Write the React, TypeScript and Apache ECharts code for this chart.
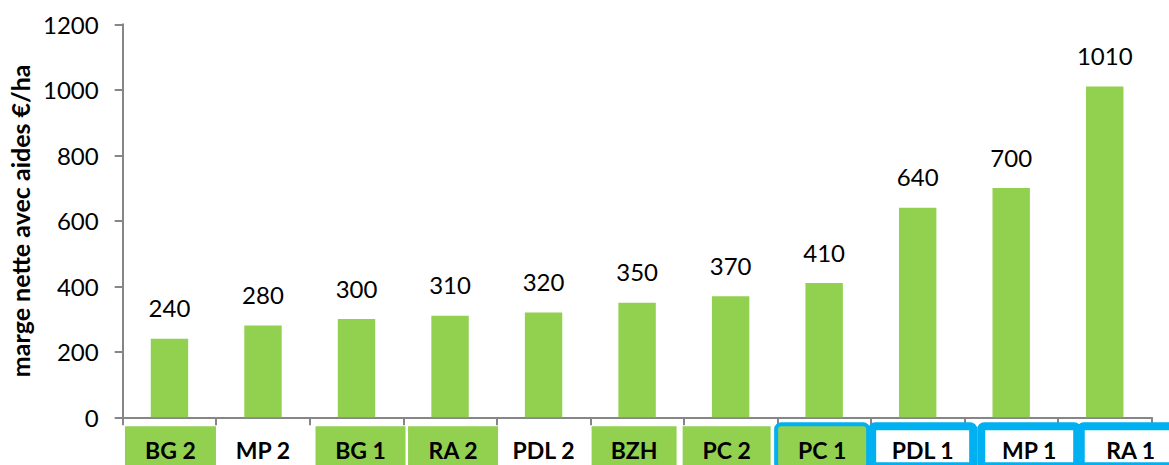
import React, { useEffect, useRef } from "react";
import * as echarts from "echarts";

const categories = ["BG 2", "MP 2", "BG 1", "RA 2", "PDL 2", "BZH", "PC 2", "PC 1", "PDL 1", "MP 1", "RA 1"];
const margeNette = [240, 280, 300, 310, 320, 350, 370, 410, 640, 700, 1010];
const yTicks = { min: 0, max: 1200, interval: 200 };
const yTitle = "marge nette avec aides €/ha";

const GREEN = "#92D050";
const BLUE = "#00B0F0";
const FONT = "Lato";

// label box styling per category (fill, blue frame, box width, horizontal shift)
const labelBoxes: Record<string, { fill?: string; border?: boolean; width: number; shift: number }> = {
  "BG 2": { fill: GREEN, width: 91, shift: 1 },
  "MP 2": { width: 91, shift: 0 },
  "BG 1": { fill: GREEN, width: 90, shift: 4 },
  "RA 2": { fill: GREEN, width: 90, shift: 3 },
  "PDL 2": { width: 91, shift: 0 },
  "BZH": { fill: GREEN, width: 85, shift: -3 },
  "PC 2": { fill: GREEN, width: 88, shift: -4 },
  "PC 1": { fill: GREEN, border: true, width: 88, shift: -2 },
  "PDL 1": { border: true, width: 101, shift: 5 },
  "MP 1": { border: true, width: 96, shift: 18 },
  "RA 1": { border: true, width: 100, shift: 26 },
};

export default function App() {
  const ref = useRef<HTMLDivElement>(null);
  useEffect(() => {
    if (!ref.current) return;
    const chart = echarts.init(ref.current, null, { renderer: "svg" });
    const rich: Record<string, any> = {};
    categories.forEach((c, i) => {
      const b = labelBoxes[c];
      rich["b" + i] = {
        width: b.width,
        lineHeight: 20,
        padding: [12, 0, 5, 0],
        align: "center",
        fontSize: 23,
        fontWeight: "bold",
        fontFamily: FONT,
        color: "#000",
        backgroundColor: b.fill || "transparent",
        borderColor: b.border ? BLUE : "transparent",
        borderWidth: b.border ? 4 : 0,
        borderRadius: b.border ? 3 : 0,
      };
      rich["s" + i] = {
        width: Math.abs(b.shift) * 2,
        lineHeight: 20,
        padding: [12, 0, 5, 0],
        fontSize: 23,
        fontFamily: FONT,
      };
    });
    chart.setOption({
      animation: false,
      grid: {
        left: 122.7,
        right: 17.5,
        top: 24.3,
        bottom: 47.7,
        containLabel: false,
        outerBoundsMode: "none",
      },
      xAxis: {
        type: "category",
        data: categories,
        axisLine: { lineStyle: { color: "#868686", width: 2 } },
        axisTick: { show: true, length: 8, lineStyle: { color: "#868686", width: 2 } },
        axisLabel: {
          interval: 0,
          margin: 19,
          hideOverlap: false,
          formatter: (v: string, i: number) => {
            const s = labelBoxes[v].shift;
            if (s > 0) return `{s${i}| }{b${i}|${v}}`;
            if (s < 0) return `{b${i}|${v}}{s${i}| }`;
            return `{b${i}|${v}}`;
          },
          rich,
        },
      },
      yAxis: {
        type: "value",
        min: yTicks.min,
        max: yTicks.max,
        interval: yTicks.interval,
        name: yTitle,
        nameLocation: "middle",
        nameGap: 81,
        nameTextStyle: { fontFamily: FONT, fontSize: 25, fontWeight: "bold", color: "#000" },
        axisLine: { show: true, lineStyle: { color: "#868686", width: 2 } },
        axisTick: { show: true, length: 8, lineStyle: { color: "#868686", width: 2 } },
        splitLine: { show: false },
        axisLabel: {
          fontFamily: FONT,
          fontSize: 24,
          color: "#000",
          margin: 24,
          formatter: (v: number) => String(v),
        },
      },
      series: [
        {
          type: "bar",
          data: margeNette,
          barWidth: "40%",
          itemStyle: { color: GREEN },
          label: {
            show: true,
            position: "top",
            distance: 19,
            fontFamily: FONT,
            fontSize: 24,
            color: "#000",
          },
        },
      ],
    });
    return () => chart.dispose();
  }, []);
  return (
    <div
      ref={ref}
      style={{ position: "absolute", left: 0, top: 0, width: 1169, height: 465, background: "#fff" }}
    />
  );
}
